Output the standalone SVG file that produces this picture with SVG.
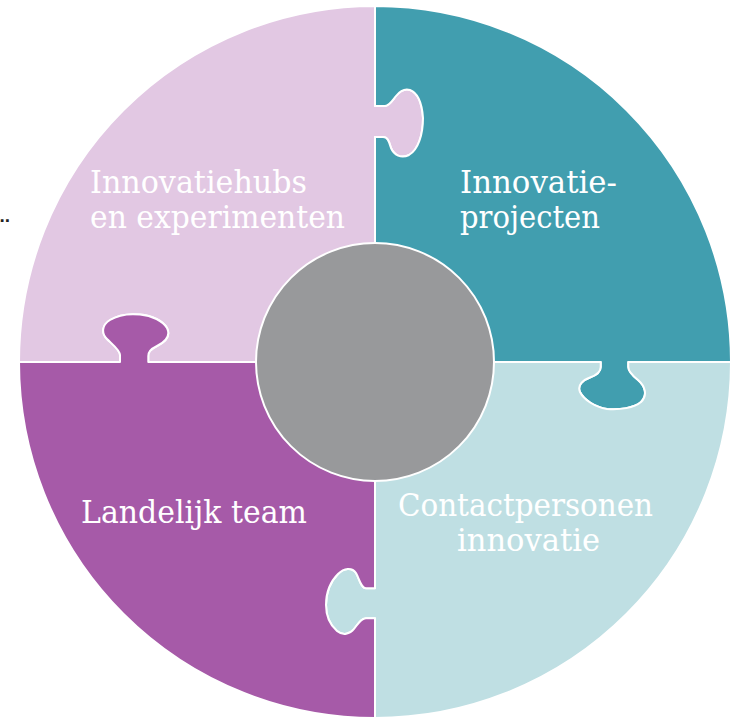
<svg xmlns="http://www.w3.org/2000/svg" width="739" height="717" viewBox="0 0 739 717">
<style>
.piece{stroke:#ffffff;stroke-width:2;stroke-linejoin:round}
.lbl{font-family:"DejaVu Serif","Liberation Serif",serif;font-size:31px;fill:#ffffff}
</style>
<rect width="739" height="717" fill="#ffffff"/>
<g id="connectors"></g>
<g id="innovatiehubs">
<path class="piece" fill="#e2c8e3" d="M19,362 A356,356 0 0 1 375,6 L375,106 L385,106 C389,106 392,101 396,96 C400,91 405,88.5 410,90 C418,93 422,103 423,118 C423,135 418,150 409,155 C401,159 394,155 391,148 C389,142 388,137 383,137 L375,137 L375,362 L148.3,362 L148.3,356 C148.3,352 150,349.5 157,346 C165,342 171,336 167,328 C163,321 152,315.5 140,314.5 C130,313.5 118,315 110,320 C102,325 101,333 107,339 C112,344 120,350 120,355 L120,362 Z"/>
<text class="lbl" x="90" y="193" textLength="217" lengthAdjust="spacingAndGlyphs">Innovatiehubs</text>
<text class="lbl" x="90" y="228" textLength="255" lengthAdjust="spacingAndGlyphs">en experimenten</text>
</g>
<g id="innovatieprojecten">
<path class="piece" fill="#419eaf" d="M375,6 A356,356 0 0 1 731,362 L628.3,362 L628.3,367 C628.3,372 633,376 638,380 C645,386 648,395 641,402 C634,408 620,410 607,409 C595,407 584,400 580,392 C577,385 583,380 590,377.5 C597,375 600.7,372 600.7,367 L600.7,362 L375,362 L375,137 L383,137 C388,137 389,142 391,148 C394,155 401,159 409,155 C418,150 423,135 423,118 C422,103 418,93 410,90 C405,88.5 400,91 396,96 C392,101 389,106 385,106 L375,106 Z"/>
<text class="lbl" x="460" y="193" textLength="157" lengthAdjust="spacingAndGlyphs">Innovatie-</text>
<text class="lbl" x="460" y="228" textLength="140" lengthAdjust="spacingAndGlyphs">projecten</text>
</g>
<g id="contactpersonen">
<path class="piece" fill="#bfdfe3" d="M731,362 A356,356 0 0 1 375,718 L375,618.3 L366,618.3 C361,618.3 358,624 354,629 C350,634 343,636 337,631 C330,625 326,615 326,605 C326,593 330,582 338,574 C344,568 352,567 356,573 C359,578 361,588.3 366,588.3 L375,588.3 L375,362 L600.7,362 L600.7,367 C600.7,372 597,375 590,377.5 C583,380 577,385 580,392 C584,400 595,407 607,409 C620,410 634,408 641,402 C648,395 645,386 638,380 C633,376 628.3,372 628.3,367 L628.3,362 Z"/>
<text class="lbl" x="398" y="516" textLength="255" lengthAdjust="spacingAndGlyphs">Contactpersonen</text>
<text class="lbl" x="457" y="551" textLength="143" lengthAdjust="spacingAndGlyphs">innovatie</text>
</g>
<g id="landelijk-team">
<path class="piece" fill="#a65aa8" d="M375,718 A356,356 0 0 1 19,362 L120,362 L120,355 C120,350 112,344 107,339 C101,333 102,325 110,320 C118,315 130,313.5 140,314.5 C152,315.5 163,321 167,328 C171,336 165,342 157,346 C150,349.5 148.3,352 148.3,356 L148.3,362 L375,362 L375,588.3 L366,588.3 C361,588.3 359,578 356,573 C352,567 344,568 338,574 C330,582 326,593 326,605 C326,615 330,625 337,631 C343,636 350,634 354,629 C358,624 361,618.3 366,618.3 L375,618.3 Z"/>
<text class="lbl" x="81" y="523" textLength="226" lengthAdjust="spacingAndGlyphs">Landelijk team</text>
</g>
<g id="center">
<circle cx="375" cy="362" r="119" fill="#98999b" stroke="#ffffff" stroke-width="2"/>
</g>
<text x="-0.5" y="222" font-family="Liberation Sans, sans-serif" font-size="19" font-weight="bold" fill="#222222">..</text>
</svg>
